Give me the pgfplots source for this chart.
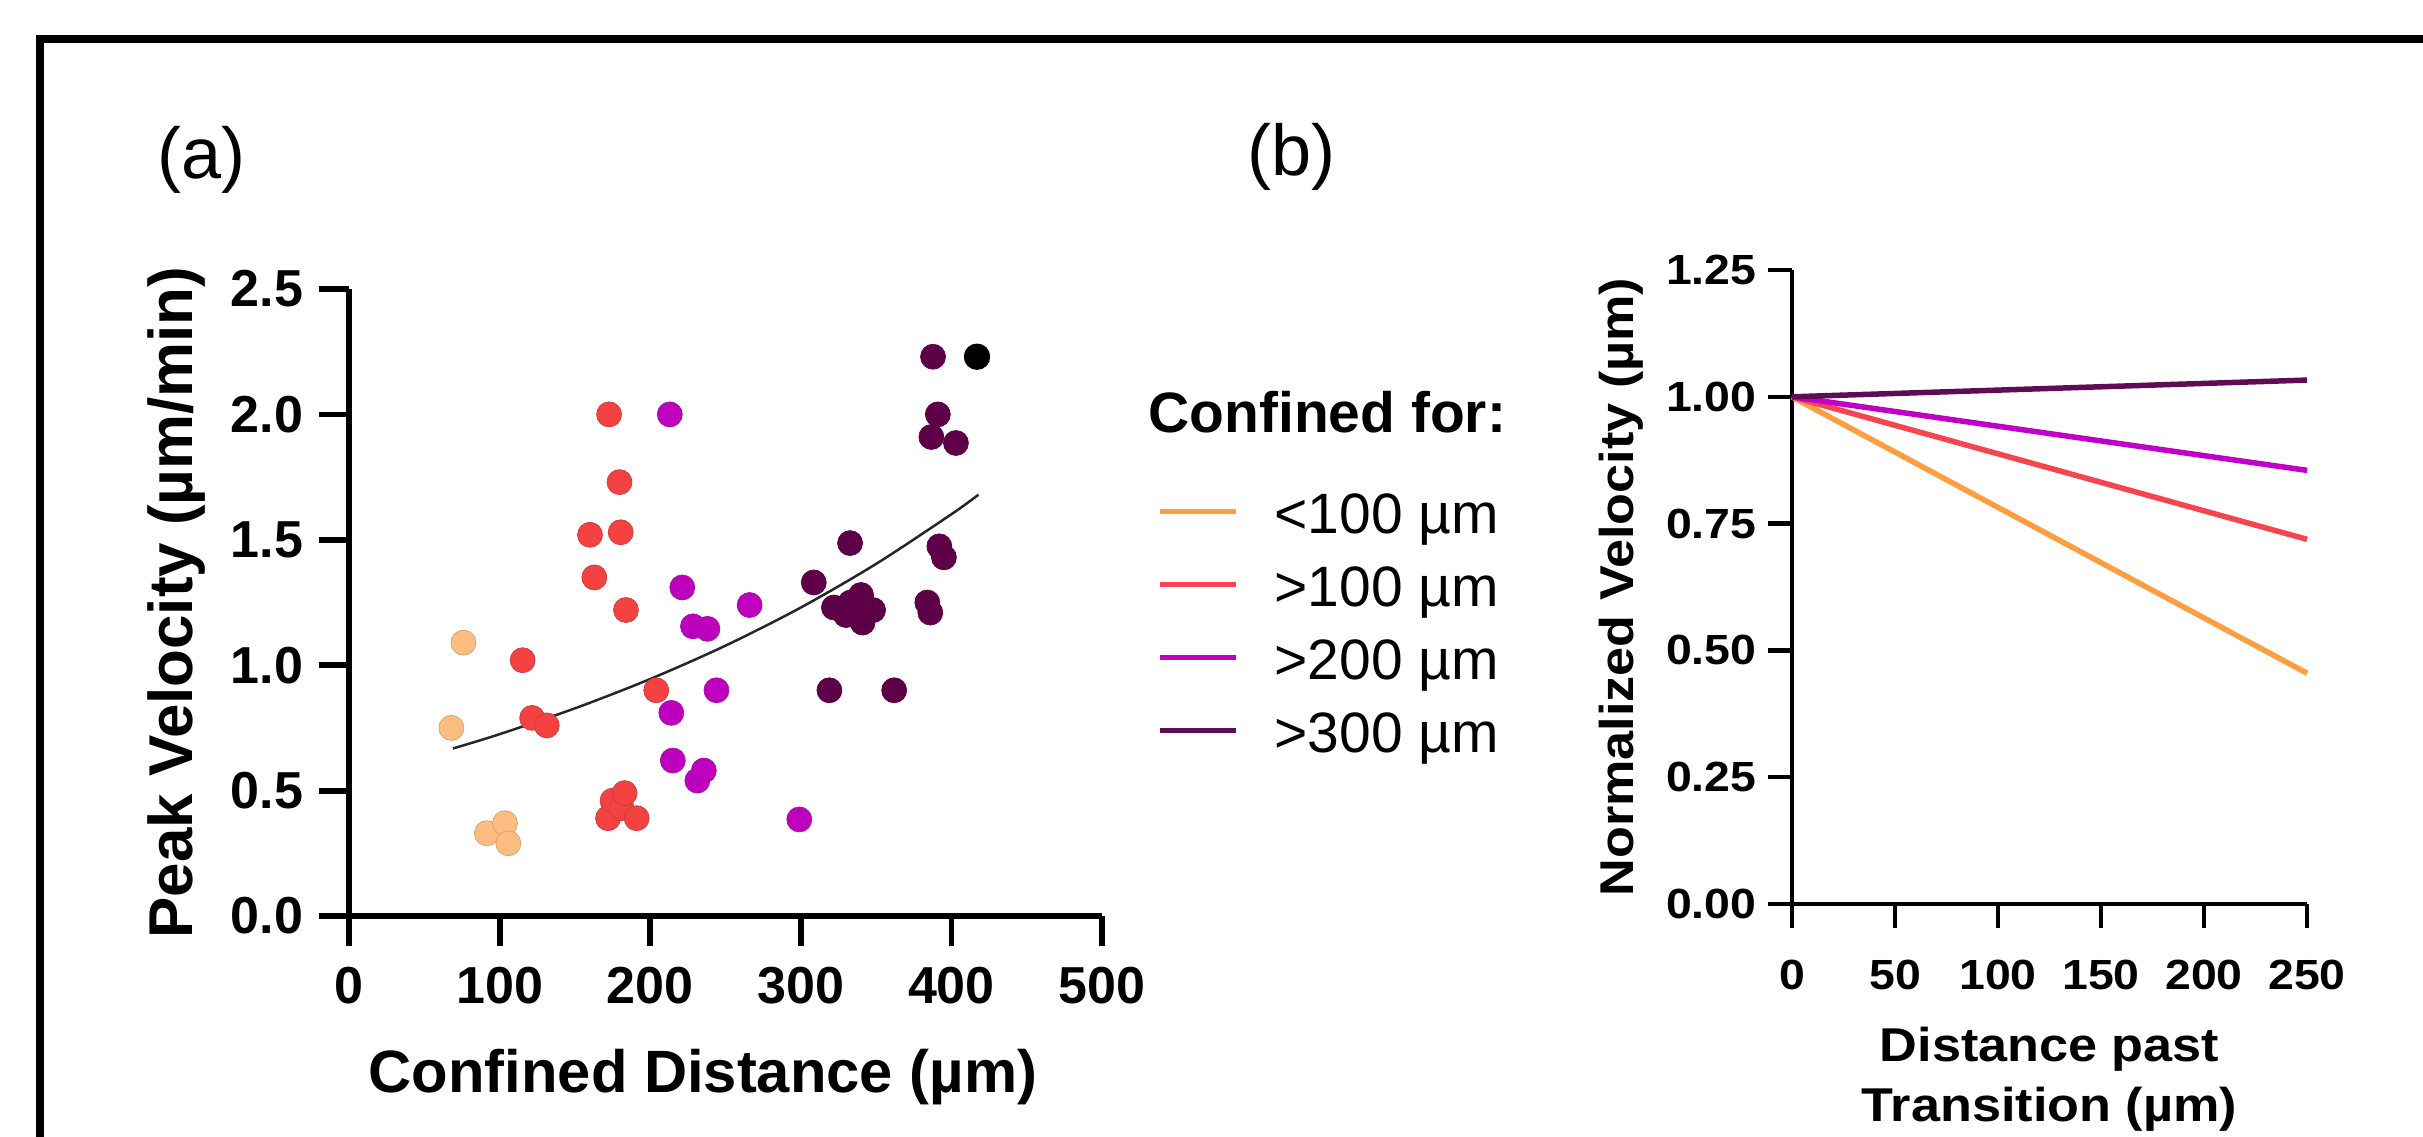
\documentclass[border=0pt]{standalone}
\usepackage{fontspec}
\setmainfont{Liberation Sans}
\usepackage{graphicx}
\usepackage{pgfplots}
\pgfplotsset{compat=1.18}

\definecolor{cPeach}{RGB}{251,189,128}
\definecolor{cPeachE}{RGB}{214,160,110}
\definecolor{cRed}{RGB}{244,66,66}
\definecolor{cRedE}{RGB}{205,60,60}
\definecolor{cMag}{RGB}{190,0,190}
\definecolor{cMagE}{RGB}{160,20,160}
\definecolor{cPur}{RGB}{94,0,72}
\definecolor{lOra}{RGB}{255,158,64}
\definecolor{lRed}{RGB}{248,68,78}
\definecolor{lMag}{RGB}{192,0,200}
\definecolor{lPur}{RGB}{96,12,84}

\newcommand\sx[1]{\scalebox{1.1}[1]{#1}}
\newcommand\tickA{\fontsize{14.8}{16}\selectfont\bfseries}
\newcommand\labA{\fontsize{17}{20}\selectfont\bfseries}
\newcommand\labAy{\fontsize{17.6}{20}\selectfont\bfseries}
\newcommand\tickB{\fontsize{12}{14}\selectfont\bfseries}
\newcommand\labB{\fontsize{13.5}{16}\selectfont\bfseries}
\newcommand\legF{\fontsize{16.2}{19}\selectfont}

\begin{document}
\begin{tikzpicture}
\path[use as bounding box] (0,0) rectangle (242.3mm,113.6mm);

% frame (top and left edges only are visible)
\draw[line width=0.8mm] (3.95mm,-1mm) -- (3.95mm,109.7mm) -- (244mm,109.7mm);

\node[anchor=base west, inner sep=0pt, font=\fontsize{20.5}{24}\selectfont] at (15.7mm,95.8mm) {(a)};
\node[anchor=base west, inner sep=0pt, font=\fontsize{20.5}{24}\selectfont] at (124.7mm,96.1mm) {(b)};

% ---- panel (a): scatter ----
\begin{axis}[
    scale only axis,
    width=75.3mm, height=62.7mm,
    at={(34.9mm,22.0mm)}, anchor=south west,
    xmin=0, xmax=500, ymin=0, ymax=2.5,
    axis lines*=left,
    axis line style={line width=0.62mm},
    tick align=outside,
    major tick length=3mm,
    tick style={line width=0.58mm, black},
    xtick={0,100,200,300,400,500},
    xticklabels={0,100,200,300,400,500},
    ytick={0,0.5,1,1.5,2,2.5},
    yticklabels={0.0,0.5,1.0,1.5,2.0,2.5},
    xticklabel style={font=\tickA, anchor=base, inner sep=0pt},
    yticklabel style={font=\tickA, anchor=east, inner sep=0pt},
    xticklabel shift=5.7mm,
    yticklabel shift=1.5mm,
    xlabel={Confined Distance (µm)},
    ylabel={Peak Velocity (µm/min)},
    xlabel style={font=\labA, at={(axis description cs:0.470,-0.2807)}, anchor=base, inner sep=0pt},
    ylabel style={font=\labAy, at={(axis description cs:-0.2085,0.5)}, anchor=base, inner sep=0pt},
    clip=false
  ]
  % fitted trend curve
  \addplot[color=black!85, line width=0.25mm, smooth] coordinates {
    (69,0.668) (100,0.725) (150,0.828) (200,0.945) (250,1.078)
    (300,1.230) (350,1.404) (400,1.602) (418,1.680)
  };
  % < 100 um
  \addplot[only marks, mark=*, mark size=1.25mm,
    mark options={fill=cPeach, draw=cPeachE, line width=0.2pt}] coordinates {
    (68,0.75) (76,1.09) (91.5,0.33) (103.6,0.37) (105.8,0.29)
  };
  % > 100 um
  \addplot[only marks, mark=*, mark size=1.25mm,
    mark options={fill=cRed, draw=cRedE, line width=0.2pt}] coordinates {
    (172.7,2.00) (179.6,1.73) (160.0,1.52) (180.4,1.53) (162.9,1.35)
    (183.9,1.22) (115.3,1.02) (121.6,0.79) (131.3,0.76) (204,0.90)
    (172,0.39) (175,0.46) (181,0.43) (183,0.49) (191,0.39)
  };
  % > 200 um
  \addplot[only marks, mark=*, mark size=1.25mm,
    mark options={fill=cMag, draw=cMagE, line width=0.2pt}] coordinates {
    (213,2.00) (221.3,1.31) (266,1.24) (228.4,1.155) (238,1.145)
    (244,0.90) (214,0.81) (215,0.62) (231.3,0.54) (235.6,0.58) (299,0.385)
  };
  % > 300 um
  \addplot[only marks, mark=*, mark size=1.25mm,
    mark options={fill=cPur, draw=cPur, line width=0.2pt}] coordinates {
    (387.8,2.23) (391,2.00) (386.7,1.91) (403,1.886) (332.7,1.487)
    (392,1.474) (395,1.43) (308.6,1.33)
    (322,1.23) (330,1.20) (333,1.25) (340,1.28) (341,1.17) (348,1.22)
    (384,1.25) (386,1.21) (319,0.90) (362,0.90)
  };
  \addplot[only marks, mark=*, mark size=1.25mm,
    mark options={fill=black, draw=black}] coordinates {(417,2.23)};
\end{axis}

% ---- panel (b): normalized velocity ----
\begin{axis}[
    scale only axis,
    width=51.5mm, height=63.4mm,
    at={(179.2mm,23.2mm)}, anchor=south west,
    xmin=0, xmax=250, ymin=0, ymax=1.25,
    axis lines*=left,
    axis line style={line width=0.45mm},
    tick align=outside,
    major tick length=2.4mm,
    tick style={line width=0.45mm, black},
    xtick={0,50,100,150,200,250},
    xticklabels={\sx{0},\sx{50},\sx{100},\sx{150},\sx{200},\sx{250}},
    ytick={0,0.25,0.5,0.75,1,1.25},
    yticklabels={\sx{0.00},\sx{0.25},\sx{0.50},\sx{0.75},\sx{1.00},\sx{1.25}},
    xticklabel style={font=\tickB, anchor=base, inner sep=0pt},
    yticklabel style={font=\tickB, anchor=east, inner sep=0pt},
    xticklabel shift=6.1mm,
    yticklabel shift=1.1mm,
    xlabel={\scalebox{1.1}[1]{Distance past}},
    ylabel={\scalebox{1.1}[1]{Normalized Velocity (µm)}},
    xlabel style={font=\labB, at={(axis description cs:0.5,-0.2476)}, anchor=base, inner sep=0pt},
    ylabel style={font=\labB, at={(axis description cs:-0.3087,0.5)}, anchor=base, inner sep=0pt},
    clip=false
  ]
  \addplot[color=lOra, line width=0.55mm] coordinates {(0,1) (250,0.455)};
  \addplot[color=lRed, line width=0.55mm] coordinates {(0,1) (250,0.719)};
  \addplot[color=lMag, line width=0.55mm] coordinates {(0,1) (250,0.855)};
  \addplot[color=lPur, line width=0.55mm] coordinates {(0,1) (250,1.033)};
  \node[font=\labB, anchor=base, inner sep=0pt] at (axis description cs:0.5,-0.3423)
    {\scalebox{1.1}[1]{Transition (µm)}};
\end{axis}

% ---- legend ----
\node[anchor=base west, inner sep=0pt, font=\legF\bfseries] at (114.8mm,70.4mm) {Confined for:};
\draw[lOra, line width=0.5mm] (116.0mm,62.5mm) -- (123.6mm,62.5mm);
\node[anchor=base west, inner sep=0pt, font=\legF] at (127.4mm,60.3mm) {<100 µm};
\draw[lRed, line width=0.5mm] (116.0mm,55.2mm) -- (123.6mm,55.2mm);
\node[anchor=base west, inner sep=0pt, font=\legF] at (127.4mm,53.0mm) {>100 µm};
\draw[lMag, line width=0.5mm] (116.0mm,47.9mm) -- (123.6mm,47.9mm);
\node[anchor=base west, inner sep=0pt, font=\legF] at (127.4mm,45.7mm) {>200 µm};
\draw[lPur, line width=0.5mm] (116.0mm,40.6mm) -- (123.6mm,40.6mm);
\node[anchor=base west, inner sep=0pt, font=\legF] at (127.4mm,38.4mm) {>300 µm};
\end{tikzpicture}
\end{document}
